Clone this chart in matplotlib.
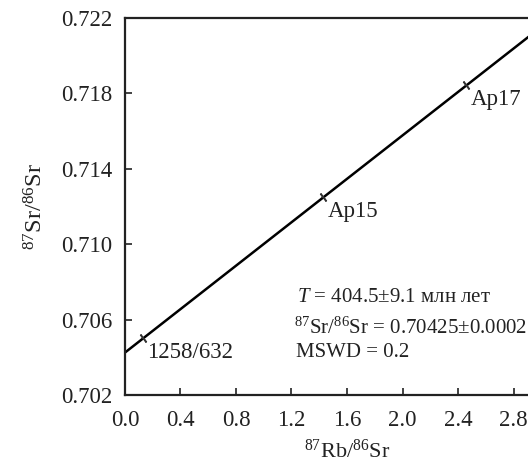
import numpy as np
import matplotlib.pyplot as plt

# measured points (87Rb/86Sr, 87Sr/86Sr)
samples = ['1258/632', 'Ap15', 'Ap17']
rb_sr = [0.13, 1.43, 2.46]
sr_sr = [0.70500, 0.71249, 0.71842]

# isochron
sr0 = 0.70425
slope = 0.00576
line_x = [0.0, 3.2]

xticks = [0.0, 0.4, 0.8, 1.2, 1.6, 2.0, 2.4, 2.8]
yticks = [0.702, 0.706, 0.710, 0.714, 0.718, 0.722]

plt.rcParams['font.family'] = ['Liberation Serif', 'DejaVu Serif']
plt.rcParams['mathtext.fontset'] = 'custom'
plt.rcParams['mathtext.rm'] = 'Liberation Serif'
plt.rcParams['mathtext.it'] = 'Liberation Serif:italic'

fig = plt.figure(figsize=(5.28, 4.66), dpi=100)
# axes runs past the right edge, like the cropped original
ax = fig.add_axes([0.2367, 0.1524, 0.841, 0.809])

lx = np.array(line_x)
ax.plot(lx, sr0 + slope * lx, color='black', lw=1.8)
ax.plot(rb_sr, sr_sr, linestyle='none', marker=(2, 2, 38), markersize=7,
        markeredgecolor='#333333', markeredgewidth=1.2)

for name, x, y in zip(samples, rb_sr, sr_sr):
    ax.annotate(name, (x, y), xytext=(3, -10), textcoords='offset points',
                fontsize=16.5, va='center', ha='left', color='#222222')

ax.text(1.24, 0.70715, '$T$ = 404.5\u00b19.1 млн лет', fontsize=15, va='center', color='#222222')
ax.text(1.22, 0.70555, '$^{87}$Sr/$^{86}$Sr = 0.70425\u00b10.0002', fontsize=15, va='center',
        color='#222222', clip_on=False)
ax.text(1.23, 0.70428, 'MSWD = 0.2', fontsize=15, va='center', color='#222222')

ax.set_xlim(0, 3.2)
ax.set_ylim(0.702, 0.722)
ax.set_xticks(xticks)
ax.set_yticks(yticks)
ax.set_xticklabels(['%.1f' % v for v in xticks])
ax.set_yticklabels(['%.3f' % v for v in yticks])
ax.tick_params(direction='in', length=5, width=1.2, labelsize=16.5, colors='#222222')
ax.tick_params(axis='x', pad=11)
ax.tick_params(axis='y', pad=9)
for s in ax.spines.values():
    s.set_linewidth(1.6)
    s.set_color('#222222')

ax.set_xlabel('$^{87}$Rb/$^{86}$Sr', fontsize=16, color='#222222', labelpad=6)
ax.set_ylabel('$^{87}$Sr/$^{86}$Sr', fontsize=17.5, color='#222222', labelpad=10)

fig.savefig('out.png', dpi=100)
